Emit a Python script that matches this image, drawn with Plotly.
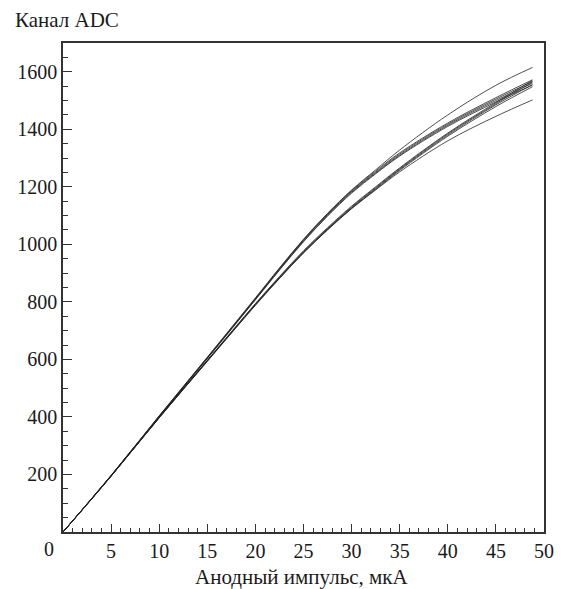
import plotly.graph_objects as go

# Anode pulse current, uA
current_ua = [0, 5, 10, 15, 20, 22.5, 25, 27.5, 30, 32.5, 35, 40, 45, 48.8]

# ADC channel response for each measured channel
adc_curves = [
    [0, 197, 404, 608, 814, 918, 1018, 1108, 1189, 1259, 1328, 1450, 1553, 1615],
    [0, 196, 403, 606, 812, 916, 1016, 1106, 1187, 1255, 1318, 1422, 1510, 1572],
    [0, 195, 402, 605, 810, 914, 1014, 1104, 1184, 1251, 1314, 1418, 1505, 1566],
    [0, 196, 402, 604, 809, 912, 1011, 1101, 1181, 1248, 1310, 1414, 1500, 1560],
    [0, 194, 401, 603, 807, 910, 1009, 1098, 1178, 1245, 1307, 1410, 1495, 1554],
    [0, 195, 399, 597, 794, 888, 978, 1058, 1133, 1200, 1266, 1387, 1493, 1570],
    [0, 194, 398, 596, 792, 886, 975, 1055, 1130, 1197, 1263, 1384, 1489, 1564],
    [0, 196, 398, 595, 791, 884, 973, 1053, 1127, 1194, 1260, 1380, 1485, 1555],
    [0, 194, 397, 594, 789, 882, 971, 1051, 1125, 1191, 1257, 1376, 1479, 1548],
    [0, 195, 397, 593, 788, 881, 970, 1050, 1124, 1189, 1252, 1360, 1445, 1502],
]

x_ticks = [5, 10, 15, 20, 25, 30, 35, 40, 45, 50]
y_ticks = [200, 400, 600, 800, 1000, 1200, 1400, 1600]

FONT = "Liberation Serif, Times New Roman, serif"
INK = "#1a1a1a"

fig = go.Figure()
for ys in adc_curves:
    fig.add_trace(go.Scatter(
        x=current_ua, y=ys, mode="lines",
        line=dict(color="#222222", width=0.8, shape="spline", smoothing=1.0),
        showlegend=False, hoverinfo="skip",
    ))

axis_common = dict(
    showgrid=False, zeroline=False, showline=True, mirror=True,
    linecolor="#333333", linewidth=1.5,
    ticks="inside", tickcolor="#333333", tickwidth=1.3,
    tickfont=dict(family=FONT, size=20, color=INK),
)

fig.update_xaxes(
    range=[0, 50], tickvals=x_ticks, ticklen=8,
    minor=dict(dtick=1, tick0=0, ticks="inside", ticklen=4,
               tickcolor="#333333", tickwidth=1.1),
    **axis_common,
)
fig.update_yaxes(
    range=[0, 1700], tickvals=y_ticks, ticklen=9,
    minor=dict(dtick=50, tick0=0, ticks="inside", ticklen=5,
               tickcolor="#333333", tickwidth=1.1),
    **axis_common,
)

fig.add_annotation(x=0, y=0, xref="x", yref="y", text="0", showarrow=False,
                   xanchor="center", yanchor="top", xshift=-14, yshift=-4,
                   font=dict(family=FONT, size=20, color=INK))
fig.add_annotation(x=-0.104, y=1.047, xref="paper", yref="paper",
                   text="Канал ADC", showarrow=False,
                   xanchor="left", yanchor="middle",
                   font=dict(family=FONT, size=21, color=INK))
fig.add_annotation(x=0.497, y=-0.092, xref="paper", yref="paper",
                   text="Анодный импульс, мкА", showarrow=False,
                   xanchor="center", yanchor="middle",
                   font=dict(family=FONT, size=21, color=INK))

fig.update_layout(
    width=566, height=589,
    margin=dict(l=63, r=13, t=43, b=57),
    paper_bgcolor="white", plot_bgcolor="white",
)

fig.write_html("out.html")
